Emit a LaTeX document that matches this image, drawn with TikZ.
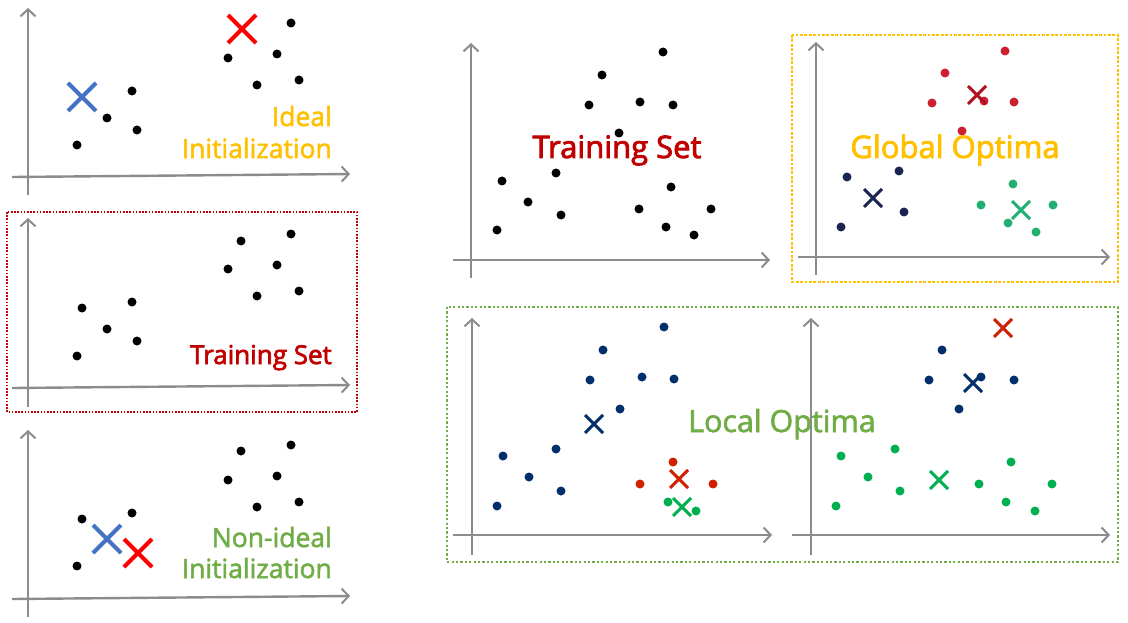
\documentclass[tikz,border=0pt]{standalone}
\usepackage{fontspec}
\setmainfont{Open Sans}
\newfontfamily\medfont[FakeBold=2]{Open Sans}
\newfontfamily\heavyfont[FakeBold=2.6]{Open Sans}
\usetikzlibrary{arrows.meta}
\definecolor{axisgray}{HTML}{8C8C8C}
\definecolor{gold}{HTML}{FFC000}
\definecolor{tdred}{HTML}{C00000}
\definecolor{tgreen}{HTML}{70AD47}
\definecolor{xred}{HTML}{FF0000}
\definecolor{xblue}{HTML}{4472C4}
\definecolor{gred}{HTML}{CC1F2F}
\definecolor{gxred}{HTML}{B01020}
\definecolor{gnavy}{HTML}{1B2650}
\definecolor{ggreen}{HTML}{21B072}
\definecolor{lnavy}{HTML}{002F6C}
\definecolor{lred}{HTML}{D02000}
\definecolor{lgreen}{HTML}{00B050}
\newcommand\mycross[4]{\draw[line width=#4,#3] (#1) +(-#2,-#2) -- +(#2,#2) +(-#2,#2) -- +(#2,-#2);}
\begin{document}
\begin{tikzpicture}[x=1pt,y=-1pt,
  axis/.style={draw=axisgray,line width=2.4pt,-{Straight Barb[length=7pt,width=15pt,line width=2pt]}},
  bigdot/.style={circle,inner sep=0pt,minimum size=9pt,fill=black},
  smalldot/.style={circle,inner sep=0pt,minimum size=9pt},
  lbl/.style={inner sep=0pt}]
\useasboundingbox (0,0) rectangle (1128,623);
\fill[white] (0,0) rectangle (1128,623);

% ---------- Panel 1: Ideal initialization ----------
\draw[axis] (28,195) -- (28,8);
\draw[axis] (12,177) -- (350,174);
\foreach \x/\y [count=\i] in {291/23,228/58,277/54,257/85,299/80,132/91,107/118,137/130,77/145}
  \node[bigdot] (pa\i) at (\x,\y) {};
\mycross{242,29}{14}{xred}{4pt}
\mycross{82,97}{14}{xblue}{4pt}
\node[lbl,anchor=base east,text=gold,font=\medfont\fontsize{26.5}{30}\selectfont] (ideal1) at (332,126) {Ideal};
\node[lbl,anchor=base east,text=gold,font=\medfont\fontsize{26.5}{30}\selectfont] (ideal2) at (332,158) {Initialization};

% ---------- Panel 2: training set (left) ----------
\draw[tdred,line width=1.6pt,dash pattern=on 1.6pt off 1.6pt] (7,212) rectangle (357,412);
\draw[axis] (28,407) -- (28,218);
\draw[axis] (12,388) -- (350,385);
\foreach \x/\y [count=\i] in {241/241,291/234,228/269,277/265,257/296,299/291,82/308,132/302,107/329,137/341,77/356}
  \node[bigdot] (pb\i) at (\x,\y) {};
\node[lbl,anchor=base east,text=tdred,font=\heavyfont\fontsize{26}{30}\selectfont] (train1) at (332,364) {Training Set};

% ---------- Panel 3: non-ideal initialization ----------
\draw[axis] (28,617) -- (28,430);
\draw[axis] (12,599) -- (350,596);
\foreach \x/\y [count=\i] in {241/451,291/445,228/480,277/476,257/507,299/502,82/519,132/513,77/566}
  \node[bigdot] (pc\i) at (\x,\y) {};
\mycross{107,539}{14}{xblue}{4pt}
\mycross{138,553}{14}{xred}{4pt}
\node[lbl,anchor=base east,text=tgreen,font=\medfont\fontsize{26.5}{30}\selectfont] (non1) at (332,547) {Non-ideal};
\node[lbl,anchor=base east,text=tgreen,font=\medfont\fontsize{26.5}{30}\selectfont] (non2) at (332,578) {Initialization};

% ---------- Panel 4: training set (right) ----------
\draw[axis] (471,278) -- (471,43);
\draw[axis] (453,260) -- (770,260);
\foreach \x/\y [count=\i] in {663/52,602/75,589/105,640/102,673/105,619/133,502/181,556/173,528/202,561/215,497/230,671/187,639/209,711/209,666/227,694/235}
  \node[bigdot] (pd\i) at (\x,\y) {};
\node[lbl,anchor=base,text=tdred,font=\heavyfont\fontsize{31}{35}\selectfont] (train2) at (617,158) {Training Set};

% ---------- Panel 5: global optima ----------
\draw[gold,line width=2.8pt,dash pattern=on 2.8pt off 1.6pt] (792,35) rectangle (1118,282);
\draw[axis] (816,275) -- (816,42);
\draw[axis] (798,257) -- (1110,257);
\foreach \x/\y [count=\i] in {1005/51,945/73,932/103,984/101,1014/102,962/131}
  \node[smalldot,fill=gred] (pr\i) at (\x,\y) {};
\foreach \x/\y [count=\i] in {847/177,899/171,904/212,841/227}
  \node[smalldot,fill=gnavy] (pn\i) at (\x,\y) {};
\foreach \x/\y [count=\i] in {1013/184,981/205,1053/205,1008/223,1036/232}
  \node[smalldot,fill=ggreen] (pg\i) at (\x,\y) {};
\mycross{977,95}{9}{gxred}{3pt}
\mycross{873,198}{9}{gnavy}{3pt}
\mycross{1021,210}{9}{ggreen}{3pt}
\node[lbl,anchor=base,text=gold,font=\heavyfont\fontsize{31}{35}\selectfont] (global) at (955,158) {Global Optima};

% ---------- Panels 6/7: local optima ----------
\draw[tgreen,line width=2.4pt,dash pattern=on 2.2pt off 2.2pt] (447,307) rectangle (1118,562);
% panel 6
\draw[axis] (472,555) -- (472,318);
\draw[axis] (453,535) -- (772,535);
\foreach \x/\y [count=\i] in {664/327,603/350,590/380,642/377,674/379,620/409,503/456,556/449,529/477,561/491,497/506}
  \node[smalldot,fill=lnavy] (qn\i) at (\x,\y) {};
\foreach \x/\y [count=\i] in {673/462,640/484,713/484}
  \node[smalldot,fill=lred] (qr\i) at (\x,\y) {};
\foreach \x/\y [count=\i] in {668/502,696/511}
  \node[smalldot,fill=lgreen] (qg\i) at (\x,\y) {};
\mycross{594,424}{9}{lnavy}{3pt}
\mycross{679,479}{9}{lred}{3pt}
\mycross{682,507}{9}{lgreen}{3pt}
% panel 7
\draw[axis] (811,555) -- (811,318);
\draw[axis] (792,535) -- (1110,535);
\foreach \x/\y [count=\i] in {942/350,929/380,981/377,1014/380,959/409}
  \node[smalldot,fill=lnavy] (sn\i) at (\x,\y) {};
\foreach \x/\y [count=\i] in {841/456,895/449,868/477,900/491,836/506,1011/462,979/484,1052/484,1006/502,1035/511}
  \node[smalldot,fill=lgreen] (sg\i) at (\x,\y) {};
\mycross{1003,328}{9}{lred}{3pt}
\mycross{973,383}{9}{lnavy}{3pt}
\mycross{939,480}{9}{lgreen}{3pt}
\node[lbl,anchor=base,text=tgreen,font=\medfont\fontsize{30.5}{34}\selectfont] (local) at (782,432) {Local Optima};
\end{tikzpicture}
\end{document}
